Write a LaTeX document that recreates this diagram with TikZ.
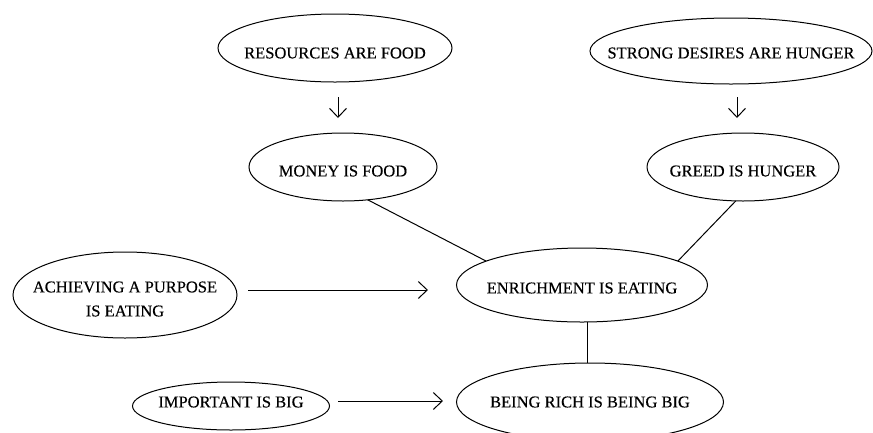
\documentclass[tikz,border=0pt]{standalone}
\usepackage{fontspec}
\setmainfont{Liberation Serif}
\newfontfamily\scanfont{Liberation Serif}[FakeBold=0.35]
\usetikzlibrary{shapes.geometric,arrows.meta}
\begin{document}
\begin{tikzpicture}[x=1pt,y=-1pt,
  ell/.style={draw,ellipse,inner sep=0pt,outer sep=0pt,line width=1pt},
  txt/.style={font=\scanfont\fontsize{16.5}{24}\selectfont,align=center,inner sep=0pt},
  conn/.style={line width=1pt},
  arr/.style={line width=1pt,-{Straight Barb[length=9pt,width=17pt,line width=1pt]}}]
\useasboundingbox (0,0) rectangle (873,432);
\node[ell,minimum width=234pt,minimum height=68pt,label={[txt,yshift=-5pt]center:RESOURCES ARE FOOD}] (res) at (335,48) {};
\node[ell,minimum width=282pt,minimum height=66pt,label={[txt,yshift=-2pt]center:STRONG DESIRES ARE HUNGER}] (str) at (731,51) {};
\node[ell,minimum width=188pt,minimum height=68pt,label={[txt,yshift=-4pt]center:MONEY IS FOOD}] (money) at (343,167) {};
\node[ell,minimum width=192pt,minimum height=68pt,label={[txt,yshift=-4pt]center:GREED IS HUNGER}] (greed) at (743,167) {};
\node[ell,minimum width=224pt,minimum height=86pt,label={[txt,yshift=-4pt]center:ACHIEVING A PURPOSE\\IS EATING}] (ach) at (125,295) {};
\node[ell,minimum width=251pt,minimum height=74pt,label={[txt,yshift=-3pt]center:ENRICHMENT IS EATING}] (enr) at (582,285) {};
\node[ell,minimum width=197pt,minimum height=48pt,label={[txt,yshift=4pt]center:IMPORTANT IS BIG}] (imp) at (231,406) {};
\node[ell,minimum width=267pt,minimum height=78pt,label={[txt]center:BEING RICH IS BEING BIG}] (rich) at (590,402) {};
\coordinate (a1s) at (338,97); \coordinate (a1e) at (338,118);
\coordinate (a2s) at (737,97); \coordinate (a2e) at (737,118);
\coordinate (a3s) at (248,290); \coordinate (a3e) at (428,290);
\coordinate (a4s) at (338,401); \coordinate (a4e) at (443,401);
\coordinate (vx) at (587,0);
\draw[arr] (a1s) -- (a1e);
\draw[arr] (a2s) -- (a2e);
\draw[arr] (a3s) -- (a3e);
\draw[arr] (a4s) -- (a4e);
\draw[conn] (money.-53) -- (enr.166);
\draw[conn] (greed.-102) -- (enr.14);
\draw[conn] (enr.south -| vx) -- (rich.north -| vx);
\end{tikzpicture}
\end{document}
